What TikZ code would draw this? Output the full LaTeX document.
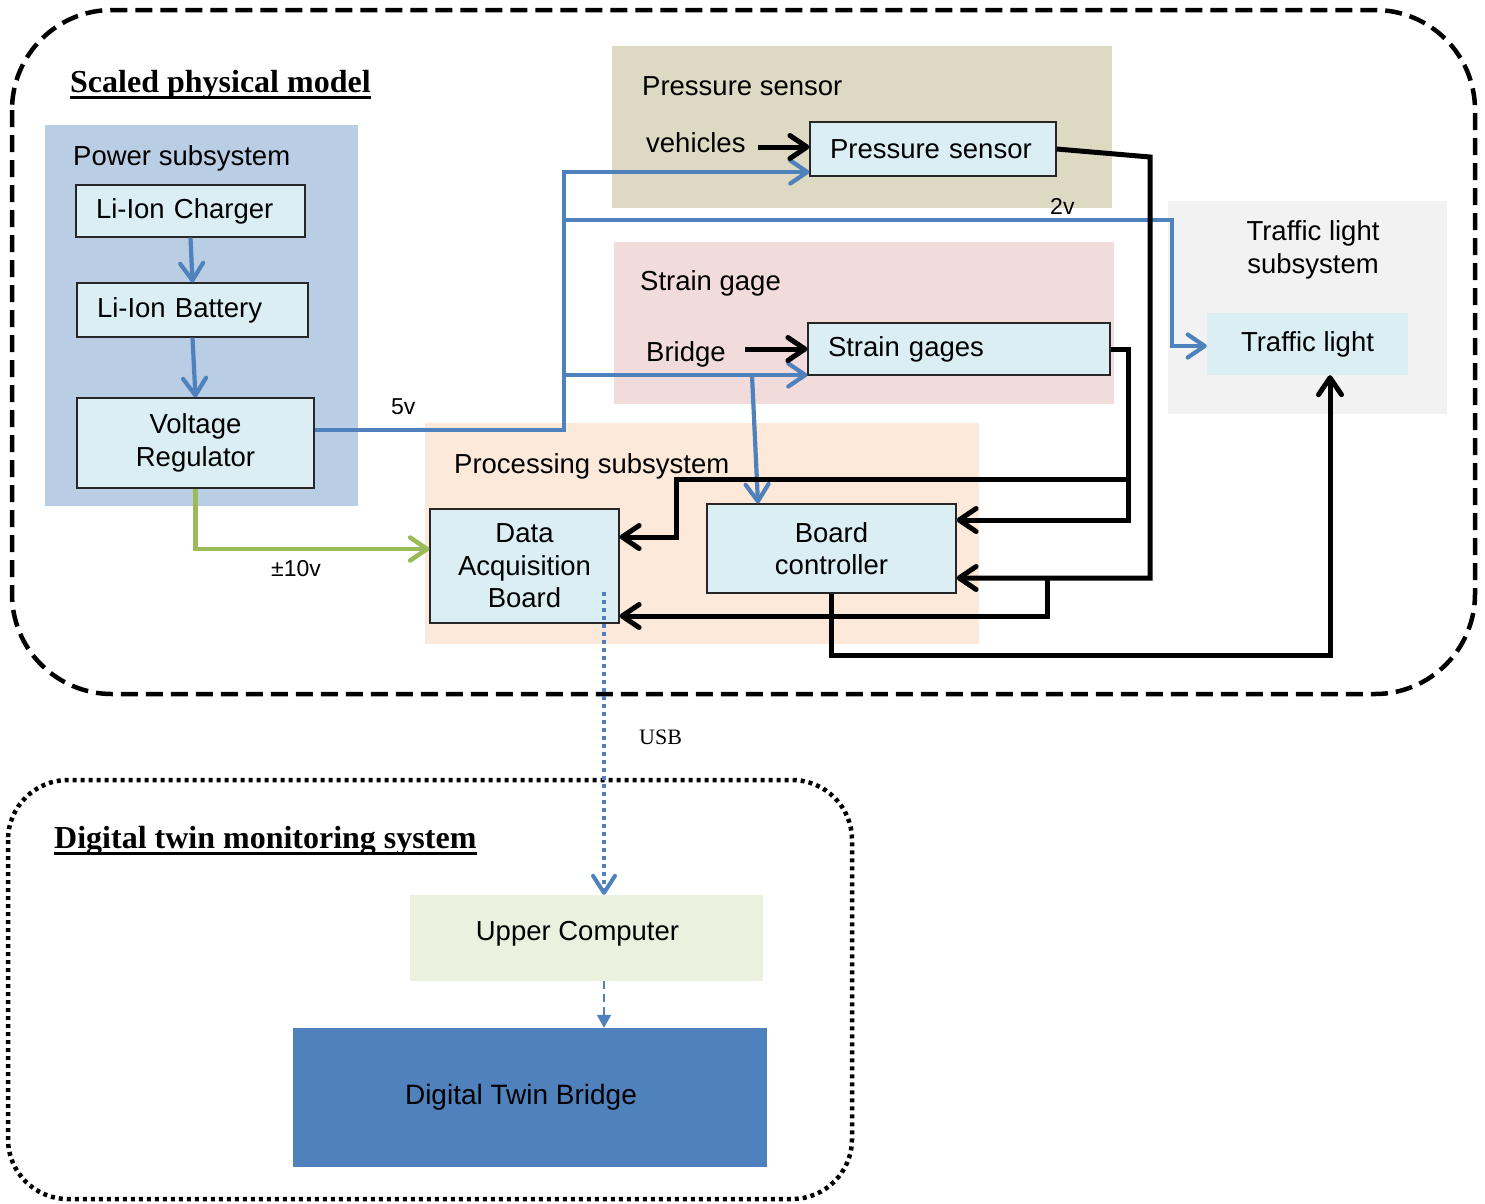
\documentclass[tikz,border=0pt]{standalone}
\usepackage{fontspec}
\setmainfont{Liberation Serif}
\setsansfont{Liberation Sans}
\usetikzlibrary{arrows.meta}
\definecolor{myblue}{HTML}{4F81BD}
\definecolor{mygreen}{HTML}{9BBB59}
\definecolor{powerbg}{HTML}{B9CDE5}
\definecolor{pressbg}{HTML}{DDD9C3}
\definecolor{strainbg}{HTML}{F2DCDB}
\definecolor{procbg}{HTML}{FDE9D9}
\definecolor{tlbg}{HTML}{F2F2F2}
\definecolor{nodefill}{HTML}{DAEEF3}
\definecolor{upcfill}{HTML}{EBF1DE}
\tikzset{
  mainfont/.style={font=\sffamily\fontsize{27.5}{32.5}\selectfont},
  lbl/.style={mainfont, inner sep=0pt, anchor=base west},
  smalllbl/.style={font=\sffamily\fontsize{23}{27}\selectfont, inner sep=0pt, anchor=base west},
  titlelbl/.style={font=\rmfamily\bfseries\fontsize{32}{38}\selectfont, inner sep=0pt, anchor=base west},
  nbox/.style={mainfont, draw=black!85, line width=1.2pt, fill=nodefill, inner sep=0pt, align=center},
  lbox/.style={nbox, align=left, inner xsep=20pt},
  tip/.style={-{Straight Barb[length=17pt,width=23pt,round]}},
  bluearr/.style={draw=myblue, line width=4.2pt, tip},
  greenarr/.style={draw=mygreen, line width=4.5pt, tip},
  blkarr/.style={draw=black, line width=5pt, tip},
}
\begin{document}
\begin{tikzpicture}[x=1pt,y=-1pt]
\useasboundingbox (0,0) rectangle (1485,1203);
\fill[white] (0,0) rectangle (1485,1203);

% frames
\draw[line width=4.5pt, dash pattern=on 17pt off 8pt, rounded corners=100pt] (12,10) rectangle (1475,694);
\draw[line width=4.5pt, dash pattern=on 4pt off 4pt, rounded corners=60pt] (8,780) rectangle (852,1199);

% backgrounds
\fill[powerbg] (45,125) rectangle (358,506);
\fill[pressbg] (612,46) rectangle (1112,208);
\fill[strainbg] (614,242) rectangle (1114,404);
\fill[procbg] (425,423) rectangle (979,644);
\fill[tlbg] (1168,201) rectangle (1447,414);

% titles
\node[titlelbl] (t1) at (70,92) {Scaled physical model};
\draw[line width=3pt] ([yshift=-5pt]t1.base west) -- ([yshift=-5pt]t1.base east);
\node[titlelbl] (t2) at (54,848) {Digital twin monitoring system};
\draw[line width=3pt] ([yshift=-5pt]t2.base west) -- ([yshift=-5pt]t2.base east);

% labels
\node[lbl] (tpow) at (73,165) {Power subsystem};
\node[lbl] (tpress) at (642,95) {Pressure sensor};
\node[lbl] (tveh) at (646,152) {vehicles};
\node[lbl] (tstrain) at (640,290) {Strain gage};
\node[lbl] (tbridge) at (646,361) {Bridge};
\node[lbl] (tproc) at (454,473) {Processing subsystem};
\node[mainfont, align=center, inner sep=0pt] (ttls) at (1313,250) {Traffic light\\subsystem};
\node[smalllbl] (t5v) at (391,414) {5v};
\node[smalllbl] (t2v) at (1050,214) {2v};
\node[smalllbl] (t10v) at (271,576) {±10v};
\node[font=\rmfamily\fontsize{22}{26}\selectfont, inner sep=0pt, anchor=base west] (tusb) at (639,744) {USB};

% nodes
\node[lbox, minimum width=229pt, minimum height=52pt, text width=189pt] (chg) at (190.5,211) {Li-Ion Charger};
\node[lbox, minimum width=231pt, minimum height=54pt, text width=191pt] (bat) at (192.5,310) {Li-Ion Battery};
\node[nbox, minimum width=237pt, minimum height=90pt] (vr) at (195.5,443) {Voltage\\Regulator};
\node[lbox, minimum width=246pt, minimum height=54pt, text width=206pt] (ps) at (933,149) {Pressure sensor};
\node[lbox, minimum width=302pt, minimum height=52pt, text width=262pt] (sg) at (959,349) {Strain gages};
\node[nbox, minimum width=189pt, minimum height=114pt] (daq) at (524.5,566) {Data\\Acquisition\\Board};
\node[nbox, minimum width=249pt, minimum height=89pt] (bc) at (831.5,548.5) {Board\\controller};
\node[mainfont, fill=nodefill, inner sep=0pt, minimum width=201pt, minimum height=62pt] (tl) at (1307.5,344) {Traffic light};
\node[mainfont, fill=upcfill, inner sep=0pt, minimum width=353pt, minimum height=86pt, text height=20pt, text depth=16pt] (upc) at (586.5,938) {\hspace*{-18pt}Upper Computer};
\node[font=\sffamily\fontsize{28}{33}\selectfont, fill=myblue, inner sep=0pt, minimum width=474pt, minimum height=139pt] (dtb) at (530,1097.5) {\hspace*{-18pt}Digital Twin Bridge};

% power chain
\draw[bluearr] (chg.south) -- (bat.north);
\draw[bluearr] (bat.south) -- (vr.north);
\draw[bluearr] (vr.east |- 0,430) -- (564,430) -- (564,172) -- (ps.west |- 0,172);
\draw[bluearr] (564,220) -- (1172,220) -- (1172,346) -- (tl.west |- 0,346);
\draw[bluearr] (564,375) -- (sg.west |- 0,375);
\draw[bluearr] (752,375) -- (bc.north -| 758,0);
\draw[greenarr] (vr.south) -- (vr.south |- 0,549) -- (daq.west |- 0,549);

% inputs
\coordinate (vehs) at (758,147);
\coordinate (brs) at (745,349);
\draw[blkarr] (vehs) -- (ps.west |- vehs);
\draw[blkarr] (brs) -- (sg.west |- brs);

% signal wires
\draw[blkarr] (ps.east) -- (1150,157) -- (1150,578) -- (bc.east |- 0,578);
\draw[blkarr] (1047,578) -- (1047,616) -- (daq.east |- 0,616);
\draw[blkarr] (sg.east) -- (1128,349) -- (1128,520) -- (bc.east |- 0,520);
\draw[blkarr] (1128,479) -- (676,479) -- (676,537) -- (daq.east |- 0,537);
\draw[blkarr] (bc.south) -- (bc.south |- 0,655) -- (1330,655) -- (tl.south -| 1330,0);

% USB
\coordinate (usbs) at (604,592);
\draw[draw=myblue, line width=4pt, dash pattern=on 4pt off 4pt, -{Straight Barb[length=17pt,width=22pt,round]}] (usbs) -- (upc.north -| usbs);
\draw[draw=myblue, line width=2pt, dash pattern=on 8pt off 5pt, -{Triangle[length=13pt,width=14pt]}] (upc.south -| usbs) -- (dtb.north -| usbs);
\end{tikzpicture}
\end{document}
